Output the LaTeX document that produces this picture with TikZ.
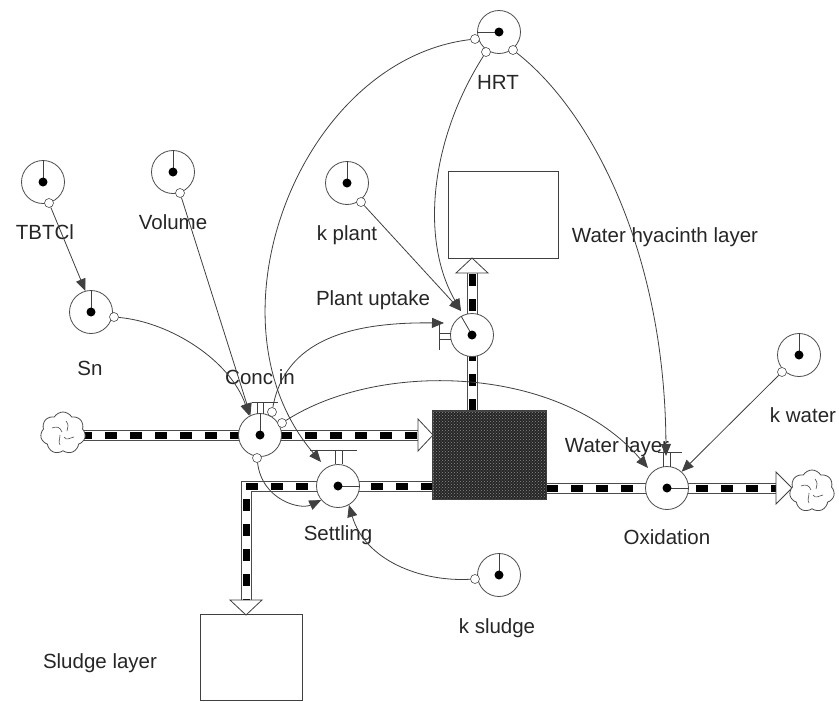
\documentclass[tikz,border=0pt]{standalone}
\usepackage{fontspec}
\setmainfont{Liberation Sans}
\usetikzlibrary{arrows.meta,shapes.symbols,patterns}
\newcommand\flowpipe[1]{%
  \draw[line width=11pt,black!70] #1;
  \draw[line width=9pt,white] #1;
  \draw[line width=7pt,black,dash pattern=on 12pt off 13pt] #1;}
\begin{document}
\begin{tikzpicture}[x=1pt,y=-1pt,
  conv/.style={circle,draw=black!70,line width=0.8pt,fill=white,minimum size=43pt,inner sep=0pt},
  valve/.style={conv},
  lbl/.style={font=\fontsize{20.5}{24}\selectfont,text=black!85,inner sep=0pt},
  link/.style={draw=black!75,line width=0.8pt,-{Triangle[length=12pt,width=10pt]}},
  port/.style={circle,draw=black!70,line width=0.6pt,fill=white,minimum size=9pt,inner sep=0pt},
  stockbox/.style={draw=black!75,line width=0.8pt,fill=white,inner sep=0pt},
  thin/.style={draw=black!75,line width=0.8pt},
  cloudsrc/.style={cloud,cloud puffs=7,cloud puff arc=120,aspect=1,draw=black!70,line width=0.8pt,fill=white,minimum width=45pt,minimum height=42pt,inner sep=0pt}
  ]
\useasboundingbox[fill=white] (0,0) rectangle (839,702);

% ---------- pipes ----------
\flowpipe{(80,435) -- (418,435)}
\flowpipe{(472,411) -- (472,273)}
\flowpipe{(433,486) -- (246,486) -- (246,600)}
\flowpipe{(546,488) -- (776,488)}

% ---------- stocks ----------
\node[stockbox,minimum width=110pt,minimum height=87pt] (WH) at (503,214.5) {};
\node[stockbox,fill=black!85,minimum width=113pt,minimum height=88pt] (WL) at (489.5,455) {};
\fill[pattern=crosshatch dots,pattern color=black!45] (WL.north west) rectangle (WL.south east);
\draw[black!75,line width=0.8pt] (WL.north west) rectangle (WL.south east);
\node[stockbox,minimum width=102pt,minimum height=86pt] (SL) at (251,657) {};

% ---------- hollow pipe arrowheads ----------
\draw[stockbox] (418,419) -- (433,435) -- (418,451) -- cycle;
\draw[stockbox] (456,273) -- (472,258) -- (488,273) -- cycle;
\draw[stockbox] (230,600) -- (246,615) -- (262,600) -- cycle;
\draw[stockbox] (776,472) -- (792,488) -- (776,504) -- cycle;

% ---------- clouds ----------
\node[cloudsrc] (src) at (63,433) {};
\node[cloudsrc] (snk) at (812,491) {};
\foreach \c in {src,snk}{
  \draw[black!70,line width=0.6pt] (\c.center) ++(-11,-5) .. controls +(5,-2) and +(-2,-5) .. ++(10,4);
  \draw[black!70,line width=0.6pt] (\c.center) ++(3,-12) .. controls +(3,4) and +(1,-5) .. ++(1,10);
  \draw[black!70,line width=0.6pt] (\c.center) ++(11,4) .. controls +(-5,1) and +(3,4) .. ++(-10,0);
  \draw[black!70,line width=0.6pt] (\c.center) ++(-3,12) .. controls +(-2,-4) and +(0,5) .. ++(0,-10);
}

% ---------- valves ----------
\node[valve] (CI) at (260,435) {};
\node[valve] (PU) at (472,335) {};
\node[valve] (ST) at (338,486) {};
\node[valve] (OX) at (667,488) {};
\draw[thin] (CI.center) -- (CI.north);
\draw[thin] (PU.center) -- (PU.120);
\draw[thin] (ST.center) -- (ST.east);
\draw[thin] (OX.center) -- (OX.east);
% valve handles
\draw[thin] (252,402) -- (278,402) (257,402) -- (257,414) (263,402) -- (263,414);
\draw[thin] (310,450) -- (357,450) (335,450) -- (335,464) (342,450) -- (342,464);
\draw[thin] (439,324) -- (439,350) (439,333) -- (451,333) (439,339) -- (451,339);
\draw[thin] (658,452) -- (682,452) (663,452) -- (663,467) (670,452) -- (670,467);
\foreach \v in {CI,PU,ST,OX} \fill (\v.center) circle[radius=4.5pt];

% ---------- converters ----------
\node[conv] (HRT) at (499,32) {};
\node[conv] (TB) at (43,182) {};
\node[conv] (VOL) at (173,172) {};
\node[conv] (KP) at (347,183) {};
\node[conv] (SN) at (91,312) {};
\node[conv] (KW) at (799,355) {};
\node[conv] (KS) at (499,575) {};
\draw[thin] (HRT.center) -- (HRT.west);
\foreach \v in {TB,VOL,KP,SN,KW,KS} \draw[thin] (\v.center) -- (\v.north);
\foreach \v in {HRT,TB,VOL,KP,SN,KW,KS} \fill (\v.center) circle[radius=4.5pt];

% ---------- ports ----------
\node[port] (HRTa) at (475,39) {};
\node[port] (HRTb) at (486,52) {};
\node[port] (HRTc) at (513,50) {};
\node[port] (TBp) at (49,203) {};
\node[port] (VOLp) at (180,193) {};
\node[port] (KPp) at (361,202) {};
\node[port] (SNp) at (114,317) {};
\node[port] (KWp) at (782,372) {};
\node[port] (KSp) at (475,579) {};
\node[port] (CIa) at (272,412) {};
\node[port] (CIb) at (282,423) {};
\node[port] (CIc) at (257,458) {};

% ---------- arrow tip points ----------
\coordinate (PUtop) at (461,311);
\coordinate (PUleft) at (444,323);
\coordinate (STtop) at (321,462);
\coordinate (OXleft) at (648,468);
\coordinate (OXtop) at (666,456);

% ---------- labels ----------
\node[lbl] (lHRT) at (498,82) {HRT};
\node[lbl] (lTB) at (45,232) {TBTCl};
\node[lbl] (lVOL) at (173,222) {Volume};
\node[lbl] (lKP) at (347,235) {k plant};
\node[lbl] (lSN) at (90,368) {Sn};
\node[lbl] (lPU) at (373,300) {Plant uptake};
\node[lbl] (lWH) at (665,237) {Water hyacinth layer};
\node[lbl] (lCI) at (260,377) {Conc in};
\node[lbl] (lWL) at (617,447) {Water layer};
\node[lbl] (lST) at (338,535) {Settling};
\node[lbl] (lOX) at (667,537) {Oxidation};
\node[lbl] (lKW) at (803,415) {k water};
\node[lbl] (lKS) at (497,628) {k sludge};
\node[lbl] (lSL) at (100,663) {Sludge layer};

% ---------- connectors ----------
\draw[link] (TBp) -- (SN.105);
\draw[link] (VOLp) -- (CI.116);
\draw[link] (SNp) .. controls (170,322) and (230,360) .. (CI.119);
\draw[link] (HRTa) .. controls (300,60) and (200,320) .. (STtop);
\draw[link] (HRTb) .. controls (430,140) and (420,240) .. (PUtop);
\draw[link] (HRTc) .. controls (590,110) and (665,250) .. (OXtop);
\draw[link] (KPp) -- (PUtop);
\draw[link] (CIa) .. controls (285,340) and (350,322) .. (PUleft);
\draw[link] (CIb) .. controls (380,360) and (560,365) .. (OXleft);
\draw[link] (CIc) .. controls (262,500) and (300,510) .. (ST.220);
\draw[link] (KSp) .. controls (420,582) and (365,560) .. (ST.300);
\draw[link] (KWp) -- (OX.48);
\end{tikzpicture}
\end{document}
